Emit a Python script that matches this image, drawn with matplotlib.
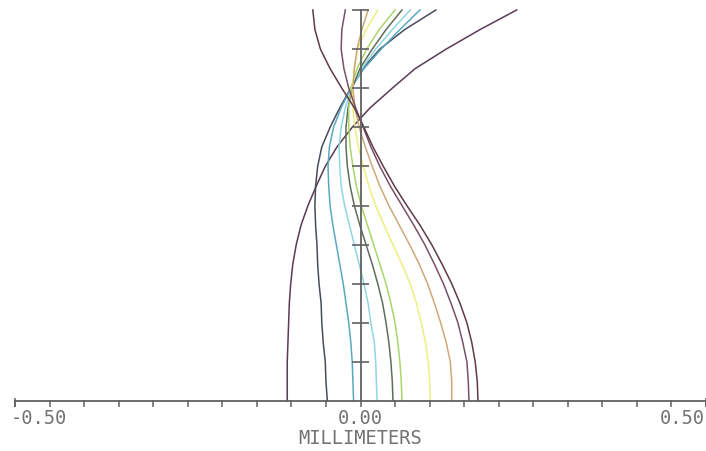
import numpy as np
import matplotlib.pyplot as plt

# relative pupil height (0 = axis, 1 = edge of pupil)
pupil = [0.00, 0.05, 0.10, 0.15, 0.20, 0.25, 0.30, 0.35, 0.40, 0.45, 0.50,
         0.55, 0.60, 0.65, 0.70, 0.75, 0.80, 0.85, 0.90, 0.95, 1.00]

# longitudinal aberration in millimeters, one list per wavelength
curve_a = [-0.106, -0.106, -0.106, -0.105, -0.104, -0.103, -0.101, -0.098, -0.093, -0.086, -0.076,
           -0.064, -0.051, -0.034, -0.012, 0.014, 0.046, 0.079, 0.124, 0.173, 0.226]
curve_b = [-0.048, -0.050, -0.051, -0.054, -0.056, -0.057, -0.060, -0.062, -0.063, -0.065, -0.066,
           -0.065, -0.062, -0.056, -0.044, -0.030, -0.014, 0.003, 0.028, 0.064, 0.109]
curve_j = [-0.010, -0.011, -0.012, -0.014, -0.017, -0.021, -0.025, -0.030, -0.035, -0.040, -0.044,
           -0.046, -0.047, -0.045, -0.039, -0.028, -0.014, 0.005, 0.030, 0.057, 0.086]
curve_i = [0.024, 0.023, 0.022, 0.020, 0.015, 0.011, 0.005, -0.002, -0.009, -0.016, -0.023,
           -0.028, -0.030, -0.031, -0.028, -0.022, -0.013, 0.002, 0.022, 0.046, 0.072]
curve_h = [0.047, 0.046, 0.044, 0.041, 0.037, 0.032, 0.025, 0.017, 0.008, -0.001, -0.009,
           -0.015, -0.019, -0.021, -0.021, -0.018, -0.012, -0.001, 0.017, 0.037, 0.060]
curve_g = [0.060, 0.059, 0.057, 0.054, 0.050, 0.044, 0.037, 0.028, 0.019, 0.010, 0.001,
           -0.006, -0.011, -0.015, -0.017, -0.017, -0.014, -0.005, 0.009, 0.027, 0.050]
curve_f = [0.101, 0.100, 0.098, 0.094, 0.088, 0.081, 0.072, 0.060, 0.047, 0.034, 0.022,
           0.012, 0.004, -0.003, -0.008, -0.011, -0.012, -0.009, -0.004, 0.008, 0.025]
curve_e = [0.132, 0.132, 0.130, 0.124, 0.116, 0.107, 0.097, 0.085, 0.071, 0.056, 0.041,
           0.028, 0.017, 0.007, -0.002, -0.008, -0.011, -0.009, -0.005, 0.002, 0.011]
curve_d = [0.157, 0.156, 0.154, 0.148, 0.141, 0.131, 0.120, 0.107, 0.093, 0.077, 0.060,
           0.043, 0.028, 0.015, 0.004, -0.007, -0.017, -0.024, -0.028, -0.027, -0.022]
curve_c = [0.170, 0.169, 0.166, 0.161, 0.154, 0.144, 0.132, 0.118, 0.103, 0.086, 0.067,
           0.049, 0.033, 0.018, 0.005, -0.009, -0.027, -0.044, -0.058, -0.066, -0.069]

curves = [curve_a, curve_b, curve_j, curve_i, curve_h, curve_g, curve_f, curve_e, curve_d, curve_c]
colors = ['#5a3a55', '#454c5c', '#5aa8c0', '#8fd6e2', '#5e6e5a',
          '#a8d66a', '#eeee80', '#cfa878', '#7a5068', '#5e3a46']

x_ticks = np.linspace(-0.5, 0.5, 21)
y_ticks = [0.1, 0.2, 0.3, 0.4, 0.5, 0.6, 0.7, 0.8, 0.9, 1.0]
tick_labels = ['-0.50', '0.00', '0.50']

fig = plt.figure(figsize=(7.06, 4.51), dpi=100)
ax = fig.add_axes([0, 0, 1, 1])
ax.set_xlim(-360.5 / 691, 345.5 / 691)
ax.set_ylim(-50 / 391, 401 / 391)
ax.axis('off')

for vals, col in zip(curves, colors):
    ax.plot(vals, pupil, color=col, lw=1.1, solid_joinstyle='round')

axis_col = '#616161'
# horizontal axis with ticks
ax.plot([-0.5, 0.5], [0, 0], color=axis_col, lw=1.3)
ax.vlines(x_ticks, -0.015, 0.002, color=axis_col, lw=1.1)
ax.vlines([-0.5, 0.5], -0.015, 0.008, color=axis_col, lw=1.1)
# vertical axis with ticks
ax.plot([0, 0], [0, 1.0], color=axis_col, lw=1.3)
ax.hlines(y_ticks, -0.0116, 0.0116, color=axis_col, lw=1.2)

lab_y = -0.046
mono = dict(family='DejaVu Sans Mono', fontsize=13.5, color='#737373', va='center')
ax.text(-0.5 - 0.006, lab_y, tick_labels[0], ha='left', **mono)
ax.text(0.0, lab_y, tick_labels[1], ha='center', **mono)
ax.text(0.5 - 0.002, lab_y, tick_labels[2], ha='right', **mono)
ax.text(0.0, -0.095, 'MILLIMETERS', ha='center', **mono)

fig.savefig('out.png', dpi=100)
